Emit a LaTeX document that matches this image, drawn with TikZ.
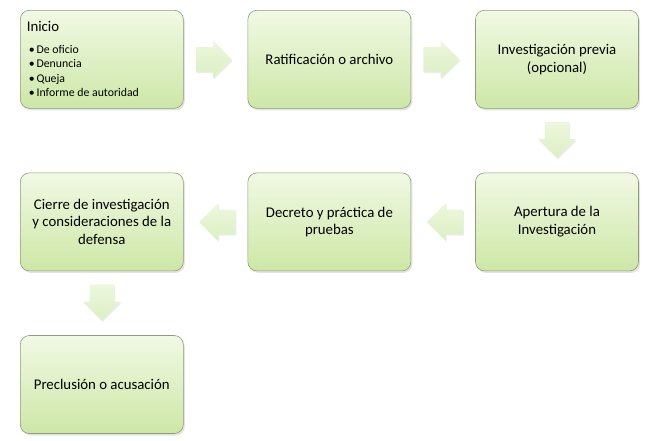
\documentclass[tikz,border=0pt]{standalone}
\usepackage{fontspec}
\setmainfont{Carlito}
\usetikzlibrary{positioning,shapes.arrows,shadows}
\definecolor{pasoarriba}{HTML}{F1F9E4}
\definecolor{pasoabajo}{HTML}{CDE7A6}
\definecolor{pasoborde}{HTML}{8E9C7C}
\definecolor{flechaarriba}{HTML}{EDF7DE}
\definecolor{flechaabajo}{HTML}{DCEFC2}

\begin{document}
\begin{tikzpicture}[x=1pt,y=1pt,
  paso/.style={draw=pasoborde, line width=0.6pt, rounded corners=9pt,
    minimum width=163pt, minimum height=98pt, align=center,
    top color=pasoarriba, bottom color=pasoabajo,
    drop shadow={opacity=0.22, shadow xshift=1.5pt, shadow yshift=-2pt},
    font=\fontsize{14.8}{17.6}\selectfont},
  flecha/.style={single arrow, single arrow head extend=6.5pt, minimum height=36pt,
    inner xsep=0pt, inner ysep=12pt, draw=none, anchor=tail,
    top color=flechaarriba, bottom color=flechaabajo,
    drop shadow={opacity=0.15, shadow xshift=1pt, shadow yshift=-1.5pt}}]
\useasboundingbox (0,0) rectangle (667,-440);
% primera fila
\node[paso, anchor=north west, align=flush left, text width=150pt,
      font=\fontsize{11.8}{14.5}\selectfont] (inicio) at (20,-10)
  {{\fontsize{14.8}{17.6}\selectfont Inicio}\\[7pt]
   \,\textbullet\,De oficio\\
   \,\textbullet\,Denuncia\\
   \,\textbullet\,Queja\\
   \,\textbullet\,Informe de autoridad};
\node[paso, right=64pt of inicio] (ratificacion) {Ratificación o archivo};
\node[paso, right=64pt of ratificacion] (previa) {Investigación previa\\(opcional)};
% segunda fila
\node[paso, below=64pt of previa] (apertura) {Apertura de la\\Investigación};
\node[paso, left=64pt of apertura] (decreto) {Decreto y práctica de\\pruebas};
\node[paso, left=64pt of decreto] (cierre) {Cierre de investigación\\y consideraciones de la\\defensa};
% tercera fila
\node[paso, below=64pt of cierre] (preclusion) {Preclusión o acusación};
% flechas
\node[flecha] (f1) at ([xshift=12pt]inicio.east) {};
\node[flecha] (f2) at ([xshift=12pt]ratificacion.east) {};
\node[flecha, rotate=-90] (f3) at ([yshift=-13pt]previa.south) {};
\node[flecha, rotate=180] (f4) at ([xshift=-12pt]apertura.west) {};
\node[flecha, rotate=180] (f5) at ([xshift=-12pt]decreto.west) {};
\node[flecha, rotate=-90] (f6) at ([yshift=-13pt]cierre.south) {};
\end{tikzpicture}
\end{document}
